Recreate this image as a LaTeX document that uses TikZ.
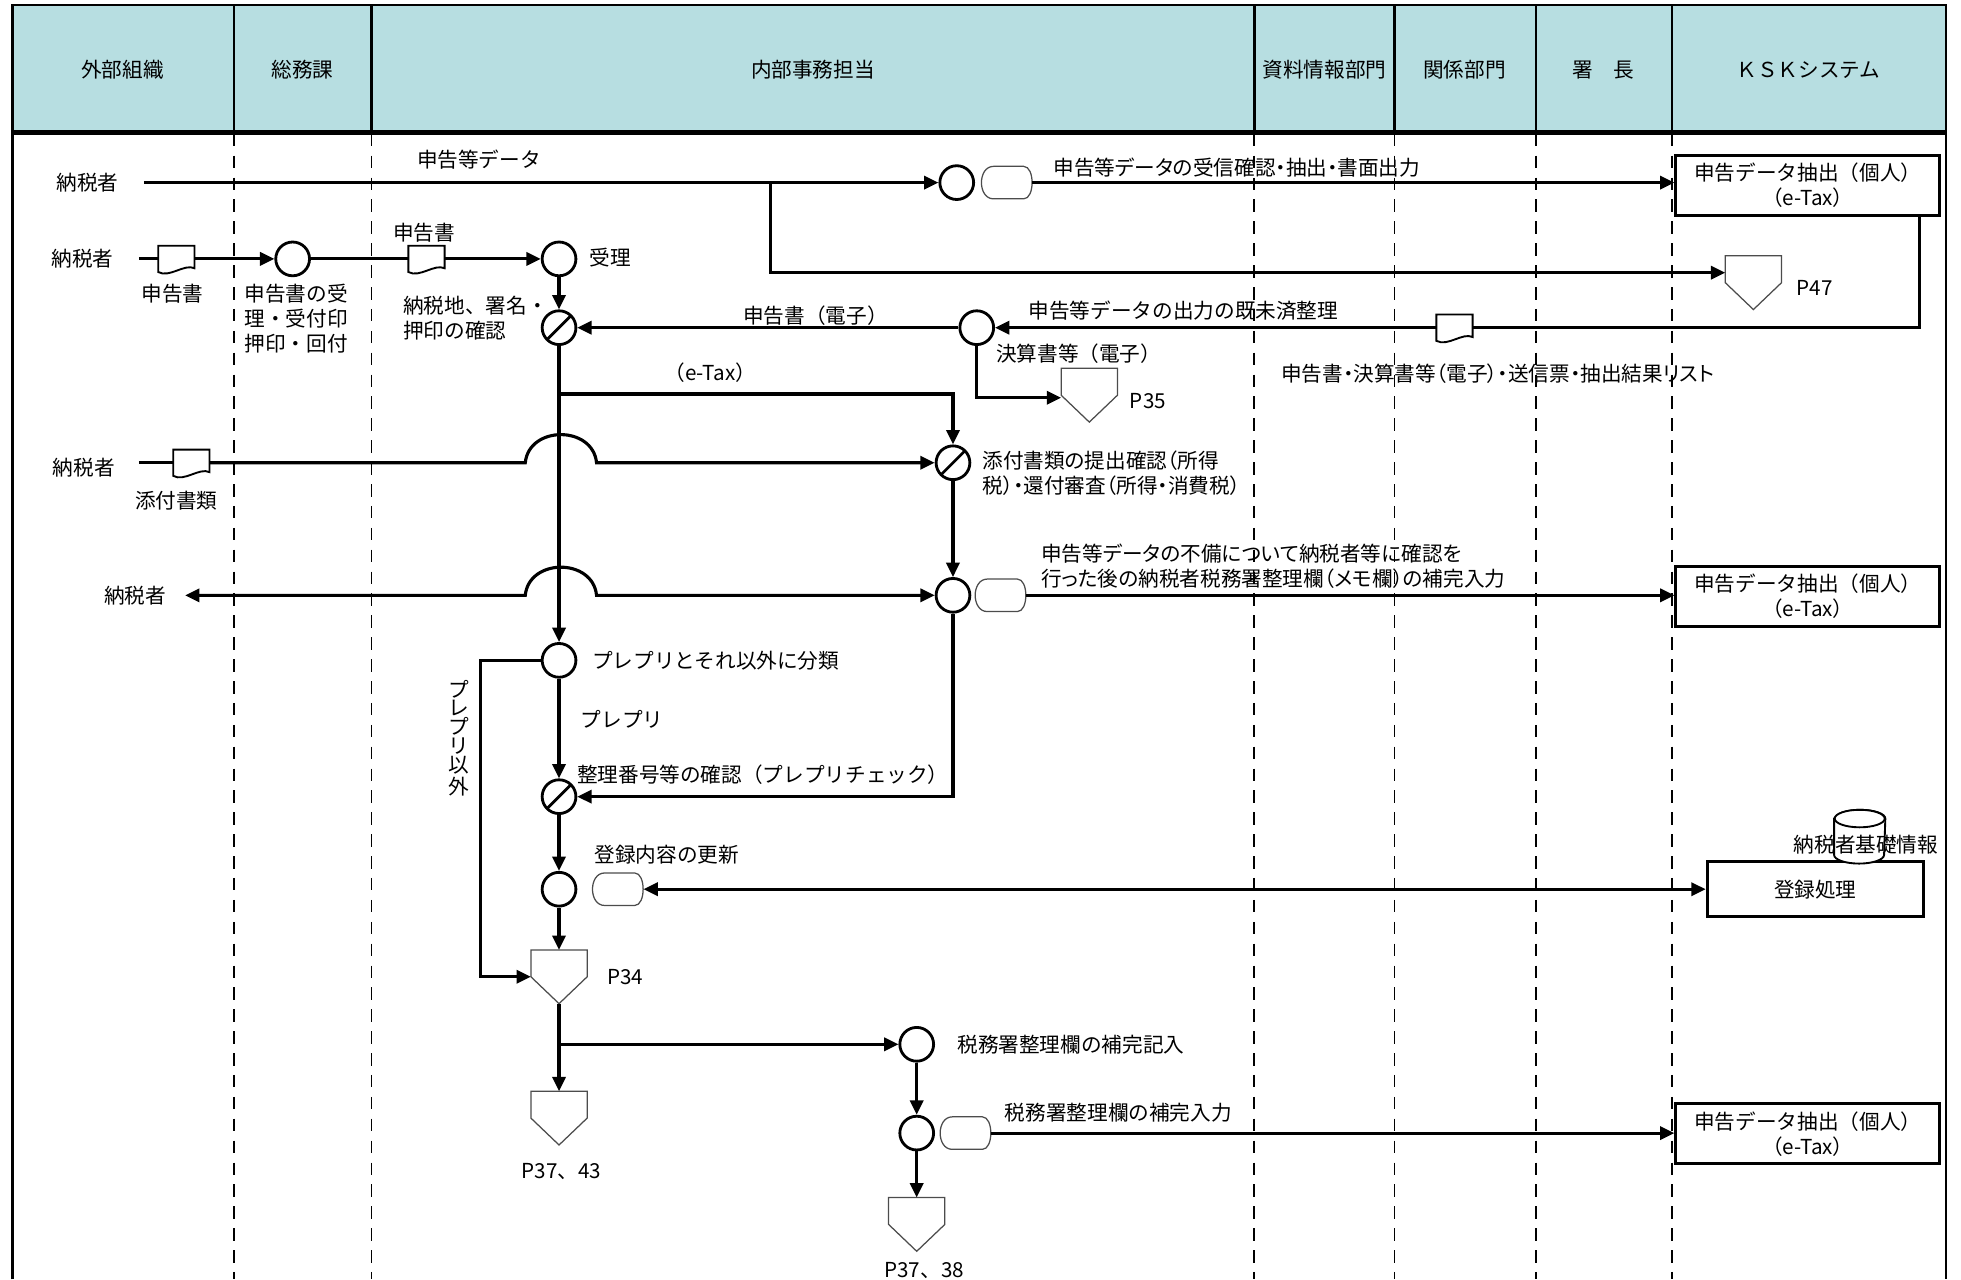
\documentclass[tikz,border=0pt]{standalone}
\usepackage{fontspec}
\setmainfont{Noto Sans CJK JP}
\newfontfamily\propjp{Noto Sans CJK JP}[RawFeature=+palt]
\usetikzlibrary{arrows.meta,calc}
\definecolor{cabeza}{RGB}{183,222,225}
\newcommand{\etiq}{\fontsize{6.6pt}{8pt}\selectfont}

\newcommand{\documento}[2]{
\node[documento] (#1) at (#2) {};
\filldraw[forma] (#1.south west) -- (#1.north west) -- (#1.north east) -- ($(#1.south east)+(0,-3)$) .. controls +(-8,-4) and +(9,5) .. (#1.south west) -- cycle;
}
\newcommand{\pagina}[2]{
\node[pagina] (#1) at (#2) {};
\filldraw[formagris] (#1.north west) -- (#1.north east) -- ($(#1.north east)!0.5!(#1.south east)$) -- (#1.south) -- ($(#1.north west)!0.5!(#1.south west)$) -- cycle;
}
\newcommand{\pantalla}[2]{
\node[pantalla] (#1) at (#2) {};
\filldraw[formagris] ($(#1.north west)+(10,0)$) -- ($(#1.north east)+(-7,0)$) .. controls +(9,0) and +(9,0) .. ($(#1.south east)+(-7,0)$) -- ($(#1.south west)+(10,0)$) .. controls +(-13,0) and +(-13,0) .. ($(#1.north west)+(10,0)$) -- cycle;
}

\tikzset{
punta/.tip={Triangle[length=4.6pt,width=4.2pt]},
flujo/.style={line width=1pt},
flecha/.style={flujo,-punta},
doble/.style={flujo,punta-punta},
proceso/.style={circle,draw,line width=0.9pt,fill=white,minimum size=10.8pt,inner sep=0pt},
revision/.style={proceso,path picture={\draw[line width=0.9pt] (path picture bounding box.south west) -- (path picture bounding box.north east);}},
documento/.style={minimum width=11.2pt,minimum height=8pt,inner sep=0pt},
pagina/.style={minimum width=17.6pt,minimum height=16.8pt,inner sep=0pt},
pantalla/.style={minimum width=16pt,minimum height=10pt,inner sep=0pt},
forma/.style={draw=black,fill=white,line width=0.6pt},
formagris/.style={draw=black!70,fill=white,line width=0.4pt},
caja/.style={draw,line width=0.9pt,fill=white,minimum width=84.4pt,minimum height=19.2pt,inner sep=0pt,align=center,font=\etiq},
etiqueta/.style={inner sep=0pt,align=left,font=\etiq},
etiquetap/.style={etiqueta,font=\propjp\etiq},
cabecera/.style={inner sep=0pt,font=\etiq},
carril/.style={line width=0.6pt,dash pattern=on 4pt off 3pt},
borde/.style={line width=0.8pt}
}

\begin{document}
\begin{tikzpicture}[x=0.4pt,y=-0.4pt]
    \useasboundingbox (0,0) rectangle (1568,1023);
    \fill[cabeza] (10,4) rectangle (1556,105);
    \foreach \x in {187,297,1003,1115,1228,1337}{
        \draw[borde] (\x,4) -- (\x,105);
        \draw[carril] (\x,107) -- (\x,1023);
    }
    \draw[borde] (10,1023) -- (10,4) -- (1556,4) -- (1556,1023);
    \draw[line width=1.4pt] (10,106) -- (1556,106);
    \foreach \x/\t [count=\i] in {98/外部組織,242/総務課,650/内部事務担当,1059/資料情報部門,1171/関係部門,1282/署　長,1446/ＫＳＫシステム}{
        \node[cabecera] (cab\i) at (\x,56) {\t};
    }

    \node[etiqueta] (nz1) at (70,146) {納税者};
    \node[etiqueta] (nz2) at (66,207) {納税者};
    \node[etiqueta] (nz3) at (67,374) {納税者};
    \node[etiqueta] (nz4) at (108,476) {納税者};

    \node[proceso] (c1) at (765,146) {};
    \pantalla{m1}{805,146}
    \node[caja] (b1) at (1445.5,148) {申告データ抽出（個人）\\（e-Tax）};
    \pagina{p47}{1402,226}
    \documento{d1}{141,207}
    \node[proceso] (r1) at (234,207) {};
    \documento{d2}{341,207}
    \node[proceso] (r2) at (447,207) {};
    \node[revision] (s1) at (447,262) {};
    \node[proceso] (c2) at (781,262) {};
    \documento{d3}{1163,262}
    \pagina{p35}{871,316}
    \documento{d4}{153,370}
    \node[revision] (s2) at (762,370) {};
    \node[proceso] (c3) at (762,476) {};
    \pantalla{m2}{800,476}
    \node[caja] (b2) at (1445.5,477) {申告データ抽出（個人）\\（e-Tax）};
    \node[proceso] (c4) at (447,528) {};
    \node[revision] (s3) at (447,637) {};
    \node[proceso] (c5) at (447,711) {};
    \pantalla{m3}{494,711}
    \node[caja,minimum width=69.2pt,minimum height=17.6pt] (b4) at (1451.5,711) {登録処理};
    \node[minimum width=16pt,minimum height=16.8pt,inner sep=0pt] (db) at (1487,669) {};
    \filldraw[forma] ($(db.north west)+(0,7)$) -- ($(db.south west)+(0,-7)$) arc[start angle=180,end angle=360,x radius=8pt,y radius=2.8pt] -- ($(db.north east)+(0,7)$) arc[start angle=0,end angle=180,x radius=8pt,y radius=2.8pt] -- cycle;
    \draw[forma] ($(db.north)+(0,7)$) ellipse[x radius=8pt,y radius=2.8pt];
    \pagina{p34}{447,781}
    \pagina{p43}{447,894}
    \node[proceso] (c6) at (733,835) {};
    \node[proceso] (c7) at (733,906) {};
    \pantalla{m4}{772,906}
    \node[caja] (b3) at (1445.5,906.5) {申告データ抽出（個人）\\（e-Tax）};
    \pagina{p38}{733,979}

    \coordinate (t1) at (115,146);
    \coordinate (j1) at (616,146);
    \coordinate (j1b) at (616,218);
    \coordinate (t2) at (111,207);
    \coordinate (k1) at (1535,262);
    \coordinate (k2) at (781,318);
    \coordinate (j2) at (447,315);
    \coordinate (k3) at (762,315);
    \coordinate (t3) at (111,370);
    \coordinate (h1) at (420,370);
    \coordinate (h2) at (477,370);
    \coordinate (t4) at (148,476);
    \coordinate (h3) at (420,476);
    \coordinate (h4) at (477,476);
    \coordinate (k4) at (762,637);
    \coordinate (k5) at (384,528);
    \coordinate (k6) at (384,781);
    \coordinate (j3) at (447,835);

    \draw[flecha] (t1) -- (c1);
    \draw[flecha] (j1) -- (j1b) -- (j1b -| p47.west);
    \draw[flecha] (m1) -- (m1 -| b1.west);
    \draw[flujo] (b1.south -| k1) -- (k1) -- (d3);
    \draw[flecha] (d3) -- (c2);
    \draw[flecha] (c2) -- (s1);
    \draw[flecha] (c2) -- (k2) -- (k2 -| p35.west);
    \draw[flujo] (t2) -- (d1);
    \draw[flecha] (d1) -- (r1);
    \draw[flujo] (r1) -- (d2);
    \draw[flecha] (d2) -- (r2);
    \draw[flecha] (r2) -- (s1);
    \draw[flecha] (s1) -- (c4);
    \draw[flecha] (j2) -- (k3) -- (s2);
    \draw[flujo] (t3) -- (d4);
    \draw[flecha] (d4) -- (h1) .. controls +(3,-30) and +(-3,-30) .. (h2) -- (s2);
    \draw[flecha] (s2) -- (c3);
    \draw[doble] (t4) -- (h3) .. controls +(3,-30) and +(-3,-30) .. (h4) -- (c3);
    \draw[flecha] (m2) -- (m2 -| b2.west);
    \draw[flecha] (c3) -- (k4) -- (s3);
    \draw[flecha] (c4) -- (s3);
    \draw[flecha] (c4) -- (k5) -- (k6) -- (p34);
    \draw[flecha] (s3) -- (c5);
    \draw[flecha] (c5) -- (p34);
    \draw[doble] (m3) -- (b4);
    \draw[flecha] (p34.south) -- (p43);
    \draw[flecha] (j3) -- (c6);
    \draw[flecha] (c6) -- (c7);
    \draw[flecha] (m4) -- (m4 -| b3.west);
    \draw[flecha] (c7) -- (p38);

    \node[etiqueta] (l1) at (383,128) {申告等データ};
    \node[etiquetap,anchor=west] (l2) at (842,134) {申告等データの受信確認・抽出・書面出力};
    \node[etiqueta] (l3) at (339,186) {申告書};
    \node[etiqueta] (l4) at (138,235) {申告書};
    \node[etiqueta,anchor=west] (l5) at (195,255) {申告書の受\\理・受付印\\押印・回付};
    \node[etiqueta,anchor=west] (l6) at (471,206) {受理};
    \node[etiqueta,anchor=west] (l7) at (322,254) {納税地、署名・\\押印の確認};
    \node[etiqueta] (l8) at (652,252) {申告書（電子）};
    \node[etiqueta,anchor=west] (l9) at (822,248) {申告等データの出力の既未済整理};
    \node[etiqueta,anchor=west] (l10) at (796,283) {決算書等（電子）};
    \node[etiquetap,anchor=west] (l11) at (1024,299) {申告書・決算書等（電子）・送信票・抽出結果リスト};
    \node[etiqueta] (l12) at (568,298) {（e-Tax）};
    \node[etiqueta] (l13) at (141,400) {添付書類};
    \node[etiquetap,anchor=west] (l14) at (785,378) {添付書類の提出確認（所得\\税）・還付審査（所得・消費税）};
    \node[etiquetap,anchor=west] (l15) at (832,453) {申告等データの不備について納税者等に確認を\\行った後の納税者税務署整理欄（メモ欄）の補完入力};
    \node[etiqueta,anchor=west] (l16) at (473,528) {プレプリとそれ以外に分類};
    \node[etiqueta,anchor=west] (l17) at (464,575) {プレプリ};
    \node[etiqueta,align=center,font=\fontsize{6.6pt}{6pt}\selectfont] (l18) at (367,590) {プ\\レ\\プ\\リ\\以\\外};
    \node[etiqueta,anchor=west] (l19) at (461,619) {整理番号等の確認（プレプリチェック）};
    \node[etiqueta,anchor=west] (l20) at (475,683) {登録内容の更新};
    \node[etiqueta] (l21) at (1492,675) {納税者基礎情報};
    \node[etiqueta,anchor=west] (l22) at (485,781) {P34};
    \node[etiqueta] (l23) at (449,937) {P37、43};
    \node[etiqueta,anchor=west] (l24) at (765,835) {税務署整理欄の補完記入};
    \node[etiqueta,anchor=west] (l25) at (803,890) {税務署整理欄の補完入力};
    \node[etiqueta] (l26) at (739,1016) {P37、38};
    \node[etiqueta,anchor=west] (l27) at (903,321) {P35};
    \node[etiqueta,anchor=west] (l28) at (1436,230) {P47};
\end{tikzpicture}
\end{document}
